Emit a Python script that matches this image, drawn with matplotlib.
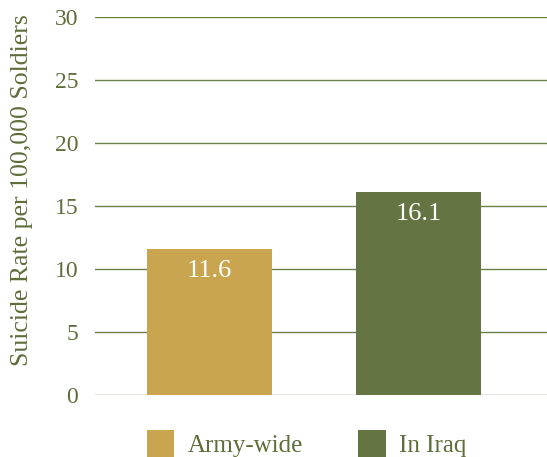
import matplotlib.pyplot as plt
from matplotlib.patches import Patch

# data
categories = ["Army-wide", "In Iraq"]
rates = [11.6, 16.1]
yticks = [0, 5, 10, 15, 20, 25, 30]

gold = "#C9A550"
green = "#647443"
text_col = "#5E6E3A"
grid_col = "#6E7D4C"

plt.rcParams['font.family'] = ['Liberation Serif', 'DejaVu Serif']

fig = plt.figure(figsize=(5.47, 4.57), dpi=100)
ax = fig.add_axes([0.1737, 0.1357, 0.8263, 0.8271])

x = range(len(categories))
bars = ax.bar(x, rates, width=0.598, color=[gold, green], zorder=3)

for b, v in zip(bars, rates):
    ax.annotate(f"{v}", (b.get_x() + b.get_width() / 2, v),
                xytext=(0, -8), textcoords="offset points",
                ha="center", va="top", color="white", fontsize=19, zorder=4)

ax.set_xlim(-0.548, 1.615)
ax.set_ylim(0, 30)
ax.set_yticks(yticks)
ax.set_yticklabels([str(t) for t in yticks])
ax.set_xticks([])
ax.tick_params(axis="y", length=0, pad=12, labelsize=17, labelcolor=text_col)
ax.yaxis.grid(True, color=grid_col, linewidth=1, zorder=0)
for s in ax.spines.values():
    s.set_visible(False)
ax.set_ylabel("Suicide Rate per 100,000 Soldiers", fontsize=18.5, color=text_col)
ax.yaxis.set_label_coords(-0.137, 0.542)

handles = [Patch(facecolor=gold, label=categories[0]), Patch(facecolor=green, label=categories[1])]
fig.legend(handles=handles, loc="upper left", bbox_to_anchor=(0.268, 0.06), ncol=2,
           frameon=False, fontsize=18, labelcolor=text_col, handlelength=1.1, handleheight=1.4,
           handletextpad=0.55, columnspacing=2.2, borderaxespad=0, borderpad=0)

fig.savefig("out.png", dpi=100)
